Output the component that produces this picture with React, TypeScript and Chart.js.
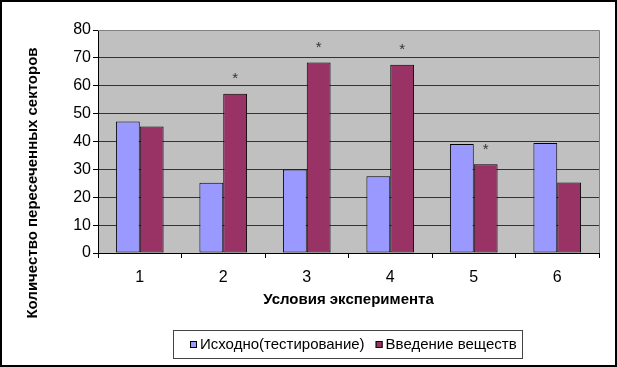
import React, { useEffect, useRef } from "react";
import { Chart, registerables } from "chart.js";

Chart.register(...registerables);

const categories = ["1", "2", "3", "4", "5", "6"];
const seriesNames = ["Исходно(тестирование)", "Введение веществ"];
const baselineValues = [47.2, 25.2, 30, 27.5, 39.1, 39.5];
const treatedValues = [45.4, 57.1, 68.3, 67.5, 31.8, 25.3];
const significant = [false, true, true, true, true, false];
const yTicks = [0, 10, 20, 30, 40, 50, 60, 70, 80];
const xTitle = "Условия эксперимента";
const yTitle = "Количество пересеченных секторов";

const FONT = "'Liberation Sans', Arial, sans-serif";

const decorPlugin = {
  id: "decor",
  beforeDraw(chart: any) {
    const { ctx, chartArea: a } = chart;
    ctx.save();
    ctx.fillStyle = "#ffffff";
    ctx.fillRect(0, 0, chart.width, chart.height);
    ctx.fillStyle = "#c0c0c0";
    ctx.fillRect(a.left, a.top, a.right - a.left, a.bottom - a.top);
    ctx.restore();
  },
  afterDatasetsDraw(chart: any) {
    const { ctx, chartArea: a } = chart;
    ctx.save();
    ctx.strokeStyle = "#808080";
    ctx.lineWidth = 1;
    ctx.beginPath();
    ctx.moveTo(a.left, a.top + 0.5);
    ctx.lineTo(a.right + 0.5, a.top + 0.5);
    ctx.lineTo(a.right + 0.5, a.bottom);
    ctx.stroke();
    const meta = chart.getDatasetMeta(1);
    ctx.fillStyle = "#333333";
    ctx.font = `15px ${FONT}`;
    ctx.textAlign = "center";
    ctx.textBaseline = "alphabetic";
    meta.data.forEach((bar: any, i: number) => {
      if (!significant[i]) return;
      ctx.fillText("*", bar.x, bar.y - 10.5);
    });
    ctx.restore();
  },
  afterDraw(chart: any) {
    const { ctx, chartArea: a } = chart;
    ctx.save();
    ctx.font = `bold 15px ${FONT}`;
    ctx.fillStyle = "#000";
    ctx.textAlign = "center";
    ctx.textBaseline = "middle";
    ctx.translate(32.5, 183);
    ctx.rotate(-Math.PI / 2);
    ctx.fillText(yTitle, 0, 0);
    ctx.restore();

    ctx.save();
    const boxW = 349;
    const boxH = 28;
    const bx = Math.round((a.left + a.right) / 2 - 1 - boxW / 2);
    const by = Math.round(a.bottom + 77);
    ctx.strokeStyle = "#444";
    ctx.lineWidth = 1;
    ctx.strokeRect(bx + 0.5, by + 0.5, boxW, boxH);
    ctx.font = `15px ${FONT}`;
    ctx.textBaseline = "middle";
    ctx.textAlign = "left";
    const cy = by + 14.5;
    let x = bx + 17;
    chart.data.datasets.forEach((ds: any) => {
      ctx.fillStyle = ds.backgroundColor;
      ctx.fillRect(x, cy - 3.5, 7, 7);
      ctx.strokeStyle = "#000";
      ctx.strokeRect(x + 0.5, cy - 3.5 + 0.5, 6, 6);
      ctx.fillStyle = "#000";
      ctx.fillText(ds.label, x + 10, cy);
      x += 10 + ctx.measureText(ds.label).width + 11;
    });
    ctx.restore();

    ctx.save();
    ctx.strokeStyle = "#000";
    ctx.lineWidth = 2;
    ctx.strokeRect(1, 1, chart.width - 2, chart.height - 2);
    ctx.restore();
  },
};

export default function App() {
  const ref = useRef<HTMLCanvasElement | null>(null);
  useEffect(() => {
    if (!ref.current) return;
    const chart = new Chart(ref.current, {
      type: "bar",
      data: {
        labels: categories,
        datasets: [
          {
            label: seriesNames[0],
            data: baselineValues,
            backgroundColor: "#9999ff",
            borderColor: "#000000",
            borderWidth: 1,
            borderSkipped: false,
          },
          {
            label: seriesNames[1],
            data: treatedValues,
            backgroundColor: "#993366",
            borderColor: "#000000",
            borderWidth: 1,
            borderSkipped: false,
          },
        ],
      },
      options: {
        responsive: false,
        animation: false,
        devicePixelRatio: 1,
        events: [],
        categoryPercentage: 0.571,
        barPercentage: 1,
        layout: { padding: { left: 0, right: 18, top: 30, bottom: 58 } },
        plugins: {
          legend: { display: false },
          tooltip: { enabled: false },
          title: { display: false },
        },
        scales: {
          x: {
            grid: {
              offset: true,
              drawOnChartArea: false,
              drawTicks: true,
              tickLength: 5,
              tickColor: "#000",
              color: "#000",
            },
            border: { color: "#000", width: 1 },
            ticks: {
              color: "#000",
              font: { family: FONT, size: 16 },
              padding: 9.5,
              maxRotation: 0,
            },
            title: {
              display: true,
              text: xTitle,
              color: "#000",
              font: { family: FONT, size: 15, weight: "bold" },
              padding: { top: 0, bottom: 0 },
            },
            afterFit(scale: any) {
              scale.height = 56;
            },
          },
          y: {
            min: 0,
            max: 80,
            afterBuildTicks(scale: any) {
              scale.ticks = yTicks.map((v) => ({ value: v }));
            },
            grid: {
              color: (c: any) => (c.tick && c.tick.value === 80 ? "#808080" : "#333333"),
              tickColor: "#000",
              tickLength: 5,
              drawTicks: true,
            },
            border: { color: "#000", width: 1 },
            ticks: {
              color: "#000",
              font: { family: FONT, size: 16 },
              padding: 2,
            },
            afterFit(scale: any) {
              scale.width = 98;
            },
          },
        },
      },
      plugins: [decorPlugin],
    } as any);
    return () => chart.destroy();
  }, []);
  return (
    <div style={{ position: "absolute", left: 0, top: 0, width: 617, height: 367 }}>
      <canvas ref={ref} width={617} height={367} style={{ display: "block" }} />
    </div>
  );
}
